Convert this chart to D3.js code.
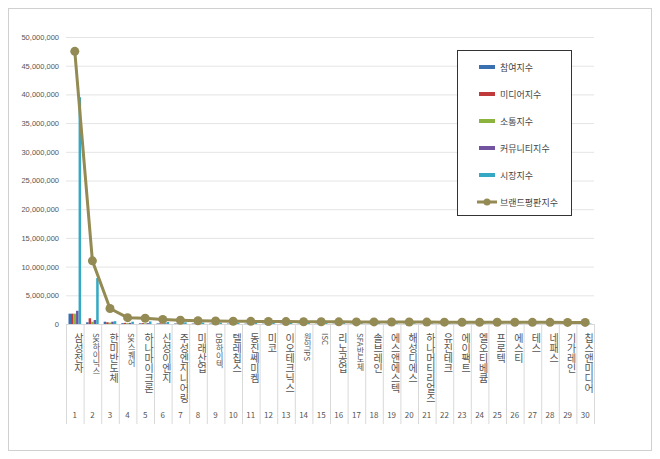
<!DOCTYPE html>
<html><head><meta charset="utf-8">
<script src="https://cdn.jsdelivr.net/npm/d3@7"></script>
<style>body{margin:0;background:#fff;font-family:"Noto Sans CJK KR","Noto Sans",sans-serif}</style>
</head><body><div id="chart"></div>
<script>
var names = ["삼성전자","SK하이닉스","한미반도체","SK스퀘어","하나마이크론","신성이엔지","주성엔지니어링","미래산업","DB하이텍","텔레칩스","동진쎄미켐","미코","이오테크닉스","원익IPS","ISC","리노공업","SFA반도체","솔브레인","에스앤에스텍","해성디에스","하나머티리얼즈","유진테크","에이팩트","엘오티베큠","프로텍","에스티","테스","네패스","기가레인","칩스앤미디어"];
var participation = [1800000,300000,400000,150000,120000,100000,90000,80000,80000,70000,70000,60000,60000,60000,50000,50000,50000,50000,40000,40000,40000,40000,40000,30000,30000,30000,30000,30000,30000,30000];
var media = [1800000,1000000,300000,200000,150000,120000,100000,90000,80000,70000,70000,60000,60000,60000,50000,50000,50000,50000,40000,40000,40000,40000,40000,30000,30000,30000,30000,30000,30000,30000];
var communication = [1800000,400000,250000,150000,120000,100000,90000,80000,70000,60000,60000,50000,50000,50000,40000,40000,40000,40000,40000,30000,30000,30000,30000,30000,30000,30000,30000,30000,30000,30000];
var community = [2300000,700000,400000,200000,150000,120000,100000,90000,80000,70000,70000,60000,60000,60000,50000,50000,50000,50000,40000,40000,40000,40000,40000,30000,30000,30000,30000,30000,30000,30000];
var market = [39500000,8000000,500000,400000,450000,350000,300000,250000,250000,220000,200000,200000,180000,170000,160000,150000,140000,140000,130000,120000,120000,110000,110000,100000,100000,100000,90000,90000,90000,80000];
var brand = [47500000,11000000,2700000,1100000,1000000,800000,650000,560000,520000,480000,460000,440000,420000,400000,390000,380000,370000,360000,350000,340000,330000,320000,310000,310000,300000,300000,290000,290000,280000,280000];
var seriesNames = ["참여지수","미디어지수","소통지수","커뮤니티지수","시장지수"];
var seriesColors = ["#3a6fb0","#c0393b","#8cb33e","#7153a0","#35a9c4"];
var lineColor = "#948a54";
var yTicks = d3.range(0, 50000001, 5000000);

var svg = d3.select("#chart").append("svg").attr("width",660).attr("height",459);
svg.append("rect").attr("x",8.5).attr("y",8.5).attr("width",643).attr("height",442).attr("fill","none").attr("stroke","#d0d0d0");

var x = d3.scaleBand().domain(d3.range(30)).range([66,594]);
var y = d3.scaleLinear().domain([0,50000000]).range([324,37]);

var grid = svg.append("g");
grid.selectAll("line").data(yTicks).enter().append("line")
  .attr("x1",66).attr("x2",594).attr("y1",function(d){return y(d)+0.5;}).attr("y2",function(d){return y(d)+0.5;})
  .attr("stroke","#e4e4e4");
var yAxis = svg.append("g").attr("transform","translate(62,0)")
  .call(d3.axisLeft(y).tickValues(yTicks).tickSize(0).tickFormat(d3.format(",")));
yAxis.select(".domain").remove();
yAxis.selectAll("text").attr("font-size",7.5).attr("fill","#555").attr("font-family","Liberation Sans, sans-serif");

// category separators
svg.append("g").selectAll("line").data(d3.range(31)).enter().append("line")
  .attr("x1",function(d){return 66+d*x.step()+0.5;}).attr("x2",function(d){return 66+d*x.step()+0.5;})
  .attr("y1",324).attr("y2",424).attr("stroke","#d9d9d9");
svg.append("line").attr("x1",66).attr("x2",594).attr("y1",324.5).attr("y2",324.5).attr("stroke","#d9d9d9");

var all = [participation,media,communication,community,market];
var inner = d3.scaleBand().domain(d3.range(5)).range([2.5,x.bandwidth()-2.5]);
all.forEach(function(arr,s){
  svg.append("g").selectAll("rect").data(arr).enter().append("rect")
    .attr("x",function(d,i){return x(i)+inner(s);}).attr("width",inner.bandwidth())
    .attr("y",function(d){return y(d);}).attr("height",function(d){return 324-y(d);})
    .attr("fill",seriesColors[s]);
});

var line = d3.line().x(function(d,i){return x(i)+x.bandwidth()/2;}).y(function(d){return y(d);});
svg.append("path").datum(brand).attr("d",line).attr("fill","none").attr("stroke",lineColor).attr("stroke-width",3);
svg.append("g").selectAll("circle").data(brand).enter().append("circle")
  .attr("cx",function(d,i){return x(i)+x.bandwidth()/2;}).attr("cy",function(d){return y(d);})
  .attr("r",4.5).attr("fill",lineColor);

// names (vertical)
var lab = svg.append("g");
names.forEach(function(n,i){
  var t = lab.append("text").attr("x",x(i)+x.bandwidth()/2+4).attr("y",333)
    .attr("font-size",10).attr("fill","#555").attr("writing-mode","vertical-rl").attr("text-orientation","upright")
    .text(n);
  if(/[A-Z]/.test(n)) t.attr("font-size",8);
});
svg.append("g").selectAll("text").data(d3.range(30)).enter().append("text")
  .attr("x",function(i){return x(i)+x.bandwidth()/2;}).attr("y",418).attr("text-anchor","middle")
  .attr("font-size",8).attr("fill","#555").text(function(i){return i+1;});

// legend
var lg = svg.append("g");
lg.append("rect").attr("x",457.5).attr("y",50.5).attr("width",114).attr("height",165).attr("fill","#fff").attr("stroke","#333");
seriesNames.concat(["브랜드평판지수"]).forEach(function(n,i){
  var yy = 67+i*27;
  if(i<5) lg.append("rect").attr("x",479).attr("y",yy-2).attr("width",16).attr("height",4).attr("fill",seriesColors[i]);
  else { lg.append("line").attr("x1",477).attr("x2",497).attr("y1",yy).attr("y2",yy).attr("stroke",lineColor).attr("stroke-width",3);
         lg.append("circle").attr("cx",487).attr("cy",yy).attr("r",3.5).attr("fill",lineColor); }
  lg.append("text").attr("x",500).attr("y",yy+3.5).attr("font-size",9).attr("fill","#444").text(n);
});
</script></body></html>
